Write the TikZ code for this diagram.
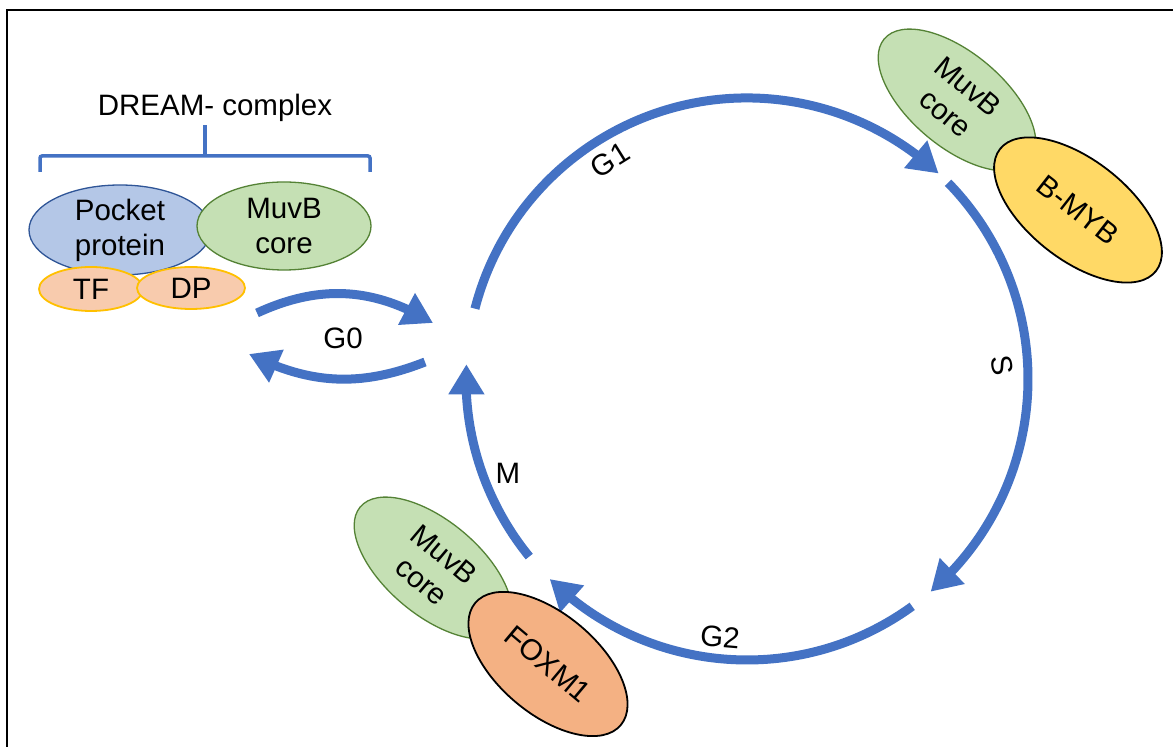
\documentclass[tikz,border=0pt]{standalone}
\usepackage{fontspec}
\setmainfont{Liberation Sans}
\usetikzlibrary{shapes.geometric,arrows.meta,calc,bending}
\definecolor{cyc}{HTML}{4472C4}
\definecolor{pocketfill}{HTML}{B4C7E7}
\definecolor{pocketline}{HTML}{2F5597}
\definecolor{muvbfill}{HTML}{C5E0B4}
\definecolor{muvbline}{HTML}{548235}
\definecolor{tffill}{HTML}{F8CBAD}
\definecolor{tfline}{HTML}{FFC000}
\definecolor{mybfill}{HTML}{FFD966}
\definecolor{foxfill}{HTML}{F4B183}
\begin{document}
\begin{tikzpicture}[x=1pt,y=1pt,
  lbl/.style={font=\fontsize{29.5}{35}\selectfont, align=center, inner sep=0pt, text=black},
  blob/.style={ellipse, inner sep=0pt, lbl},
  muvb/.style={blob, fill=muvbfill, draw=muvbline, line width=1.3pt},
  tfdp/.style={blob, fill=tffill, draw=tfline, line width=1.8pt},
  cycarrow/.style={draw=cyc, line width=9pt, -{Triangle[length=30pt,width=34pt]}},
]
\clip (0,0) rectangle (1173,747);
\fill[white] (0,0) rectangle (1173,747);
\draw[line width=2.5pt] (7,-10) -- (7,737) -- (1190,737);

% DREAM complex
\node[lbl] (dream) at (215,639) {DREAM- complex};
\coordinate (bl) at (40,575);
\coordinate (br) at (370,575);
\coordinate (bt) at (205,622);
\draw[cyc, line width=3.5pt, rounded corners=2pt] (bl) -- (40,591) -- (370,591) -- (br);
\draw[cyc, line width=3.5pt] (205,591) -- (bt);

\node[blob, fill=pocketfill, draw=pocketline, line width=1.3pt, minimum width=182pt, minimum height=90pt] (pocket) at (120,517) {Pocket\\protein};
\node[muvb, minimum width=174pt, minimum height=88pt] (muvbA) at (284,521) {MuvB\\core};
\node[tfdp, minimum width=104pt, minimum height=44pt] (tf) at (91,458) {TF};
\node[tfdp, minimum width=108pt, minimum height=42pt] (dp) at (191,459) {DP};

% cell cycle circle
\coordinate (C) at (747,368);
\coordinate (g1s) at ($(C)+(165.5:281pt)$);
\coordinate (ss) at ($(C)+(44.3:281pt)$);
\coordinate (g2s) at ($(C)+(-54:281pt)$);
\coordinate (ms) at ($(C)+(-140.8:281pt)$);
\draw[cycarrow] (g1s) arc[start angle=165.5, end angle=47, radius=281pt];
\draw[cycarrow] (ss) arc[start angle=44.3, end angle=-49.2, radius=281pt];
\draw[cycarrow] (g2s) arc[start angle=-54, end angle=-134.6, radius=281pt];
\draw[cycarrow] (ms) arc[start angle=-140.8, end angle=-183, radius=281pt];

% G0 arrows
\coordinate (u1) at (257,434);
\coordinate (u2) at (433,424);
\coordinate (l1) at (425,385);
\coordinate (l2) at (249,393);
\draw[cycarrow] (u1) to[bend left=28] (u2);
\draw[cycarrow] (l1) to[bend left=24] (l2);

% phase labels
\node[lbl] (g0) at (343,409) {G0};
\node[lbl, rotate=32] (g1) at (610,587) {G1};
\node[lbl, rotate=-80] (s) at (1002,382) {S};
\node[lbl, rotate=-5] (g2) at (720,110) {G2};
\node[lbl] (m) at (508,274) {M};

% top right complex
\node[muvb, minimum width=190pt, minimum height=94pt, rotate=-40] (muvbB) at (957,647) {MuvB\\core};
\node[blob, fill=mybfill, draw=black, line width=1.8pt, minimum width=198pt, minimum height=100pt, rotate=-38] (bmyb) at (1078,537) {B-MYB};

% bottom complex
\node[muvb, minimum width=190pt, minimum height=94pt, rotate=-40] (muvbC) at (433,179) {MuvB\\core};
\node[blob, fill=foxfill, draw=black, line width=1.8pt, minimum width=190pt, minimum height=100pt, rotate=-40] (fox) at (548,83) {FOXM1};
\end{tikzpicture}
\end{document}
